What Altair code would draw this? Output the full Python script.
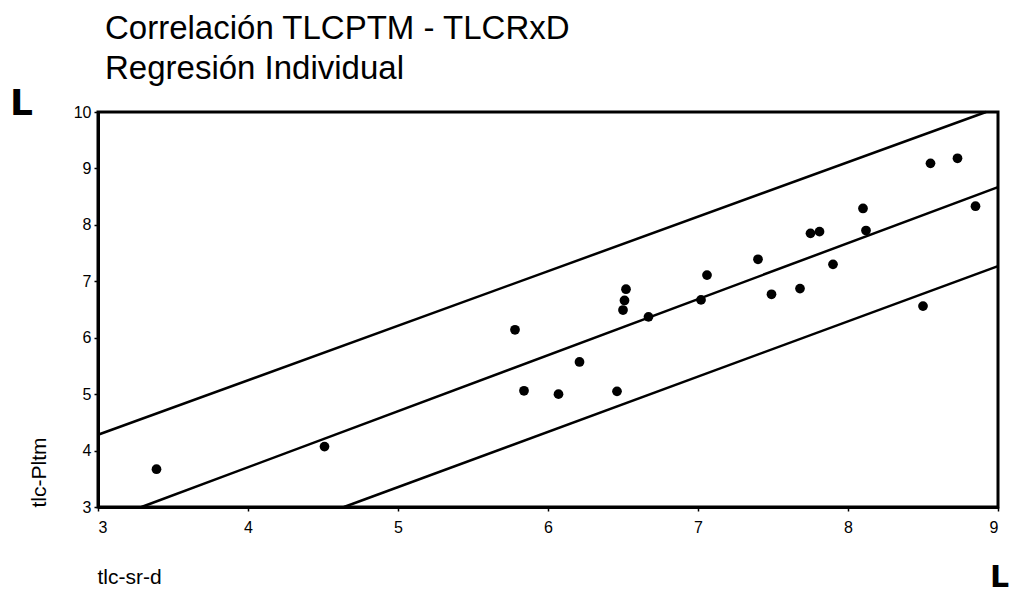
import altair as alt
import pandas as pd

# scatter points (tlc-sr-d, tlc-Pltm)
pts_x = [3.39, 4.51, 5.78, 6.52, 6.51, 6.50, 6.67, 6.21, 5.84, 6.07, 6.46,
         8.55, 8.73, 8.10, 8.85, 7.75, 7.81, 8.12, 7.40, 7.06, 7.90, 7.49,
         7.68, 8.50, 7.02]
pts_y = [3.67, 4.07, 6.14, 6.86, 6.66, 6.49, 6.37, 5.57, 5.06, 5.00, 5.05,
         9.09, 9.18, 8.29, 8.33, 7.85, 7.88, 7.90, 7.39, 7.11, 7.30, 6.77,
         6.87, 6.56, 6.67]

# regression line and prediction limits (end points)
upper_x = [3.0, 8.92]
upper_y = [4.28, 10.0]
fit_x = [3.29, 9.0]
fit_y = [3.0, 8.67]
lower_x = [4.64, 9.0]
lower_y = [3.0, 7.27]

x_ticks = [3, 4, 5, 6, 7, 8, 9]
y_ticks = [3, 4, 5, 6, 7, 8, 9, 10]

FONT = "Liberation Sans"

pts = pd.DataFrame({"x": pts_x, "y": pts_y})
rows = []
for name, xs, ys in [("upper", upper_x, upper_y), ("fit", fit_x, fit_y),
                     ("lower", lower_x, lower_y)]:
    for i, (a, b) in enumerate(zip(xs, ys)):
        rows.append({"series": name, "x": a, "y": b, "o": i})
lines = pd.DataFrame(rows)

xscale = alt.Scale(domain=[3, 9], nice=False, zero=False)
yscale = alt.Scale(domain=[3, 10], nice=False, zero=False)

xaxis = alt.Axis(values=x_ticks, grid=False, title="tlc-sr-d", format="d",
                 labelFontSize=16, labelFont=FONT, labelColor="black",
                 labelPadding=8, tickSize=4, tickColor="black", tickWidth=1.5,
                 domainColor="black", domainWidth=3,
                 titleFont=FONT, titleFontSize=21, titleFontWeight="normal",
                 titleColor="black", titleAlign="left", titleAnchor="start",
                 titleBaseline="alphabetic", titleX=-1, titleY=76)
yaxis = alt.Axis(values=y_ticks, grid=False, title="tlc-Pltm", format="d",
                 labelFontSize=16, labelFont=FONT, labelColor="black",
                 labelPadding=3, tickSize=4, tickColor="black", tickWidth=1.5,
                 domainColor="black", domainWidth=3,
                 titleFont=FONT, titleFontSize=21, titleFontWeight="normal",
                 titleColor="black", titleAngle=270, titleAlign="left",
                 titleBaseline="alphabetic", titleX=-53, titleY=395)

reg = alt.Chart(lines).mark_line(color="black", strokeWidth=2.5).encode(
    x=alt.X("x:Q", scale=xscale, axis=xaxis),
    y=alt.Y("y:Q", scale=yscale, axis=yaxis),
    detail="series:N",
    order="o:Q",
)

points = alt.Chart(pts).mark_circle(size=95, color="black", opacity=1).encode(
    x=alt.X("x:Q", scale=xscale, axis=xaxis),
    y=alt.Y("y:Q", scale=yscale, axis=yaxis),
)

one = pd.DataFrame({"t": ["L"]})
mark_l1 = alt.Chart(one).mark_text(text="L", font="DejaVu Sans", fontSize=36,
                                   fontWeight="bold", align="left",
                                   baseline="alphabetic", color="black").encode(
    x=alt.value(-88), y=alt.value(3))
mark_l2 = alt.Chart(one).mark_text(text="L", font="DejaVu Sans", fontSize=30,
                                   fontWeight="bold", align="left",
                                   baseline="alphabetic", color="black").encode(
    x=alt.value(892), y=alt.value(475))

chart = alt.layer(reg, points, mark_l1, mark_l2).properties(
    width=900, height=395,
    background="white",
    title=alt.TitleParams(
        text="Correlación TLCPTM - TLCRxD",
        subtitle="Regresión Individual",
        anchor="start", frame="group", font=FONT, subtitleFont=FONT,
        fontSize=33, subtitleFontSize=33, fontWeight="normal",
        color="black", subtitleColor="black",
        subtitlePadding=7, offset=22, dx=7, dy=22,
    ),
    autosize=alt.AutoSizeParams(type="none"),
    padding={"left": 98, "top": 112, "right": 17, "bottom": 91},
).configure_view(stroke="black", strokeWidth=3)

chart.save("out.html", embed_options={"renderer": "svg", "actions": False})
